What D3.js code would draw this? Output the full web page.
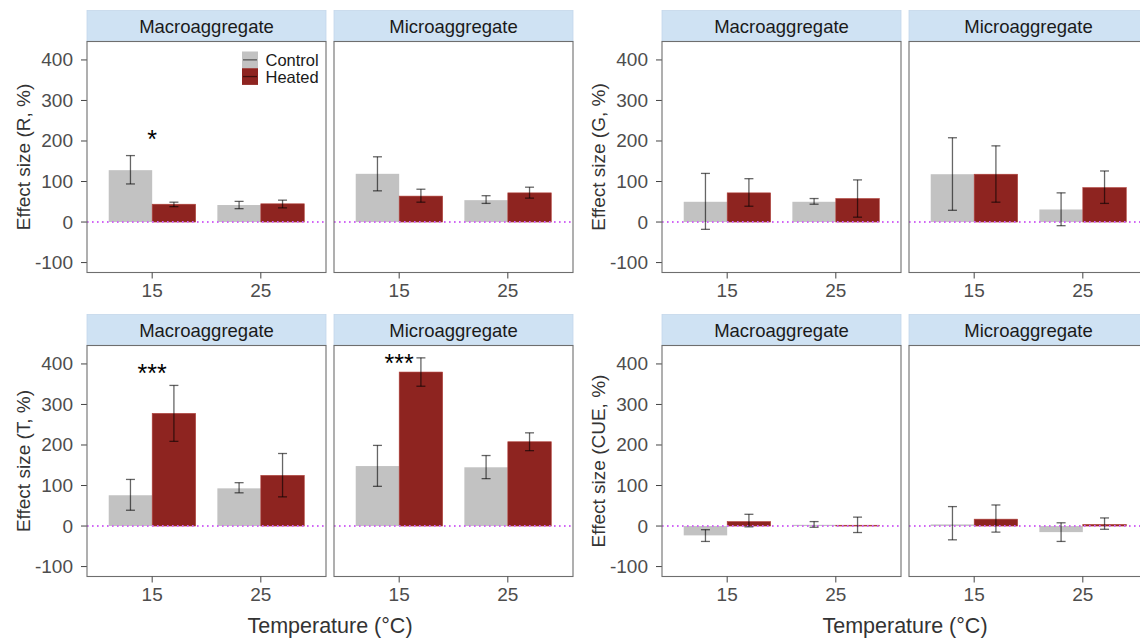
<!DOCTYPE html>
<html>
<head>
<meta charset="utf-8">
<script src="https://cdn.jsdelivr.net/npm/d3@7"></script>
<style>
  body { margin: 0; background: white; }
  text { font-family: "Liberation Sans", Arial, sans-serif; }
</style>
</head>
<body>
<div id="chart"></div>
<script>
// categories
const temps = ["15", "25"];
const aggregates = ["Macroaggregate", "Microaggregate"];
const treatments = ["Control", "Heated"];
const yTicks = [-100, 0, 100, 200, 300, 400];

// values: order = Macro 15 C, Macro 15 H, Macro 25 C, Macro 25 H, Micro 15 C, Micro 15 H, Micro 25 C, Micro 25 H
const meanR = [128, 44, 42, 45, 119, 64, 54, 72];
const lowR  = [94, 38, 33, 35, 77, 49, 46, 59];
const highR = [164, 49, 51, 54, 161, 81, 65, 86];

const meanG = [50, 72, 50, 58, 118, 118, 31, 85];
const lowG  = [-18, 39, 44, 12, 29, 49, -9, 46];
const highG = [120, 107, 58, 104, 208, 188, 72, 126];

const meanT = [76, 278, 93, 125, 148, 380, 145, 208];
const lowT  = [39, 209, 82, 72, 98, 345, 117, 186];
const highT = [115, 347, 107, 179, 199, 415, 174, 230];

const meanCUE = [-23, 11, 3, 2, 4, 17, -15, 4];
const lowCUE  = [-38, -2, -3, -16, -34, -15, -38, -8];
const highCUE = [-9, 29, 11, 22, 48, 52, 8, 20];

// significance marks: metric, aggregate, temperature, label, y value of mark centre
const sigMetric = ["R", "T", "T"];
const sigAgg = ["Macroaggregate", "Macroaggregate", "Microaggregate"];
const sigTemp = ["15", "15", "15"];
const sigLabel = ["*", "***", "***"];
const sigY = [218, 389, 415];

const metrics = [
  { key: "R", mean: meanR, low: lowR, high: highR, x0: 87, y0: 10.5 },
  { key: "G", mean: meanG, low: lowG, high: highG, x0: 662, y0: 10.5 },
  { key: "T", mean: meanT, low: lowT, high: highT, x0: 87, y0: 314.5 },
  { key: "CUE", mean: meanCUE, low: lowCUE, high: highCUE, x0: 662, y0: 314.5 }
];

const width = 1140, height = 640;
const panelW = 239, panelGap = 8, stripH = 31, panelH = 231;
const colors = { Control: "#c2c2c2", Heated: "#8e2420" };

const svg = d3.select("#chart").append("svg")
  .attr("width", width)
  .attr("height", height)
  .style("background", "white");

metrics.forEach(m => {
  const top = m.y0 + stripH;
  const bottom = top + panelH;
  const y = d3.scaleLinear().domain([-124.5, 445.5]).range([bottom, top]);

  // y title
  svg.append("text")
    .attr("transform", `translate(${m.x0 - 57},${(top + bottom) / 2}) rotate(-90)`)
    .attr("text-anchor", "middle")
    .attr("font-size", 19)
    .attr("fill", "#333")
    .text(`Effect size (${m.key}, %)`);

  // y axis ticks
  const yAxis = svg.append("g");
  yAxis.selectAll("line").data(yTicks).enter().append("line")
    .attr("x1", m.x0 - 6).attr("x2", m.x0)
    .attr("y1", d => y(d)).attr("y2", d => y(d))
    .attr("stroke", "#444").attr("stroke-width", 1);
  yAxis.selectAll("text").data(yTicks).enter().append("text")
    .attr("x", m.x0 - 14)
    .attr("y", d => y(d) + 6.5)
    .attr("text-anchor", "end")
    .attr("font-size", 19)
    .attr("fill", "#4d4d4d")
    .text(d => d);

  aggregates.forEach((agg, ai) => {
    const px = m.x0 + ai * (panelW + panelGap);
    const x = d3.scalePoint().domain(temps).range([px, px + panelW]).padding(0.6);
    const step = x.step();
    const dodge = d3.scaleBand().domain(treatments).range([-0.4 * step, 0.4 * step]);

    // strip
    svg.append("rect")
      .attr("x", px).attr("y", m.y0)
      .attr("width", panelW).attr("height", stripH)
      .attr("fill", "#cfe2f3")
      .attr("stroke", "#c4d7ea").attr("stroke-width", 0.8);
    svg.append("text")
      .attr("x", px + panelW / 2).attr("y", m.y0 + 22.5)
      .attr("text-anchor", "middle")
      .attr("font-size", 18.5)
      .attr("fill", "#1a1a1a")
      .text(agg);

    const rows = [];
    temps.forEach((t, ti) => {
      treatments.forEach((tr, ri) => {
        const idx = ai * 4 + ti * 2 + ri;
        rows.push({ temp: t, trt: tr, mean: m.mean[idx], low: m.low[idx], high: m.high[idx] });
      });
    });

    const g = svg.append("g");

    // bars
    g.selectAll(".bar").data(rows).enter().append("rect")
      .attr("class", "bar")
      .attr("x", d => x(d.temp) + dodge(d.trt))
      .attr("width", dodge.bandwidth())
      .attr("y", d => y(Math.max(0, d.mean)))
      .attr("height", d => Math.abs(y(d.mean) - y(0)))
      .attr("fill", d => colors[d.trt])
      .attr("stroke", d => d.trt === "Heated" ? "#b0403a" : "none")
      .attr("stroke-width", 0.6);

    // zero line
    g.append("line")
      .attr("x1", px).attr("x2", px + panelW)
      .attr("y1", y(0)).attr("y2", y(0))
      .attr("stroke", "#d166f5")
      .attr("stroke-width", 2)
      .attr("stroke-dasharray", "1.6,3.4");

    // error bars
    const eb = g.selectAll(".eb").data(rows).enter().append("g")
      .attr("class", "eb")
      .attr("stroke", "#000")
      .attr("stroke-opacity", 0.6)
      .attr("stroke-width", 1.3);
    const cx = d => x(d.temp) + dodge(d.trt) + dodge.bandwidth() / 2;
    eb.append("line")
      .attr("x1", cx).attr("x2", cx)
      .attr("y1", d => y(d.low)).attr("y2", d => y(d.high));
    eb.append("line")
      .attr("x1", d => cx(d) - 4.5).attr("x2", d => cx(d) + 4.5)
      .attr("y1", d => y(d.low)).attr("y2", d => y(d.low));
    eb.append("line")
      .attr("x1", d => cx(d) - 4.5).attr("x2", d => cx(d) + 4.5)
      .attr("y1", d => y(d.high)).attr("y2", d => y(d.high));

    // significance marks
    sigLabel.forEach((lab, si) => {
      if (sigMetric[si] === m.key && sigAgg[si] === agg) {
        g.append("text")
          .attr("x", x(sigTemp[si]))
          .attr("y", y(sigY[si]) + 14)
          .attr("text-anchor", "middle")
          .attr("font-size", 25)
          .attr("fill", "#000")
          .text(lab);
      }
    });

    // panel border
    svg.append("rect")
      .attr("x", px).attr("y", top)
      .attr("width", panelW).attr("height", panelH)
      .attr("fill", "none")
      .attr("stroke", "#6e6e6e").attr("stroke-width", 1.1);

    // x ticks
    const xa = svg.append("g");
    xa.selectAll("line").data(temps).enter().append("line")
      .attr("x1", d => x(d)).attr("x2", d => x(d))
      .attr("y1", bottom).attr("y2", bottom + 6)
      .attr("stroke", "#444");
    xa.selectAll("text").data(temps).enter().append("text")
      .attr("x", d => x(d))
      .attr("y", bottom + 24.5)
      .attr("text-anchor", "middle")
      .attr("font-size", 19)
      .attr("fill", "#4d4d4d")
      .text(d => d);

    // legend in first panel
    if (m.key === "R" && ai === 0) {
      const lx = px + panelW - 84, ly = top + 10;
      treatments.forEach((tr, i) => {
        svg.append("rect")
          .attr("x", lx).attr("y", ly + i * 16.7)
          .attr("width", 16).attr("height", 16.7)
          .attr("fill", colors[tr]);
        svg.append("line")
          .attr("x1", lx + 1).attr("x2", lx + 15)
          .attr("y1", ly + i * 16.7 + 8.35).attr("y2", ly + i * 16.7 + 8.35)
          .attr("stroke", "#000").attr("stroke-opacity", 0.55).attr("stroke-width", 1.3);
        svg.append("text")
          .attr("x", lx + 23.5).attr("y", ly + i * 16.7 + 14.5)
          .attr("font-size", 16.5)
          .attr("fill", "#1a1a1a")
          .text(tr);
      });
    }
  });

  // x title for bottom row
  if (m.y0 > 200) {
    svg.append("text")
      .attr("x", m.x0 + panelW + panelGap / 2)
      .attr("y", 633)
      .attr("text-anchor", "middle")
      .attr("font-size", 21.5)
      .attr("fill", "#333")
      .text("Temperature (°C)");
  }
});
</script>
</body>
</html>
